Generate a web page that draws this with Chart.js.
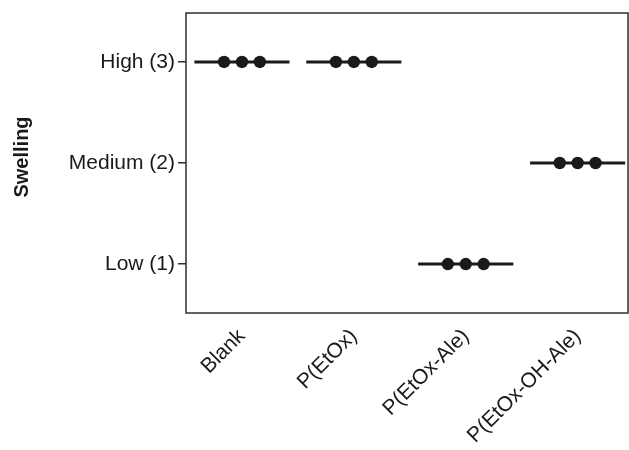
<!DOCTYPE html>
<html>
<head>
<meta charset="utf-8">
<script src="https://cdn.jsdelivr.net/npm/chart.js@4/dist/chart.umd.min.js"></script>
<style>
  body { margin: 0; background: #fff; }
  #wrap { width: 629px; height: 450px; }
</style>
</head>
<body>
<div id="wrap"><canvas id="graph" width="629" height="450"></canvas></div>
<script>
const categories = ['Blank', 'P(EtOx)', 'P(EtOx-Ale)', 'P(EtOx-OH-Ale)'];
// three replicates per group, scored 1-3
const swelling = [
    [3, 3, 3],
    [3, 3, 3],
    [1, 1, 1],
    [2, 2, 2]
];
const levelLabels = { 1: 'Low (1)', 2: 'Medium (2)', 3: 'High (3)' };
const yTitle = 'Swelling';

const ink = '#1a1a1a';
const dotSpread = 0.16;   // horizontal spacing of the stacked dots
const lineHalf = 0.425;   // half width of the median bar

function median(vals)
{
    let s = [...vals].sort((a, b) => a - b);
    let m = Math.floor(s.length / 2);
    return s.length % 2 ? s[m] : (s[m - 1] + s[m]) / 2;
}

let dots = [];
swelling.forEach((vals, i) => {
    vals.forEach((v, j) => {
        dots.push({ x: i + 1 + (j - (vals.length - 1) / 2) * dotSpread, y: v });
    });
});

let datasets = [{
    label: 'replicates',
    data: dots,
    pointRadius: 6.2,
    pointBackgroundColor: ink,
    pointBorderColor: ink,
    pointBorderWidth: 0,
    order: 0
}];

swelling.forEach((vals, i) => {
    let m = median(vals);
    datasets.push({
        type: 'line',
        label: categories[i],
        data: [{ x: i + 1 - lineHalf, y: m }, { x: i + 1 + lineHalf, y: m }],
        borderColor: ink,
        borderWidth: 3,
        pointRadius: 0,
        showLine: true,
        order: 1
    });
});

// full frame round the plot area, plus the y title
const frame = {
    id: 'frame',
    afterDraw(chart)
    {
        const { ctx, chartArea } = chart;
        ctx.save();
        ctx.strokeStyle = '#2e2e2e';
        ctx.lineWidth = 1.5;
        ctx.strokeRect(chartArea.left, chartArea.top, chartArea.right - chartArea.left, chartArea.bottom - chartArea.top);

        ctx.translate(22, (chartArea.top + chartArea.bottom) / 2 - 6);
        ctx.rotate(-Math.PI / 2);
        ctx.fillStyle = ink;
        ctx.font = "bold 20px 'Liberation Sans', Arial, sans-serif";
        ctx.textAlign = 'center';
        ctx.textBaseline = 'middle';
        ctx.fillText(yTitle, 0, 0);
        ctx.restore();
    }
};

const tickFont = { family: "'Liberation Sans', Arial, sans-serif", size: 21 };

new Chart(document.getElementById('graph'), {
    type: 'scatter',
    data: { datasets: datasets },
    plugins: [frame],
    options: {
        responsive: false,
        animation: false,
        layout: { autoPadding: false, padding: { top: 13, right: 1, left: 0, bottom: 0 } },
        plugins: {
            legend: { display: false },
            tooltip: { enabled: false }
        },
        scales: {
            x: {
                type: 'linear',
                min: 0.5,
                max: 4.45,
                afterBuildTicks: (scale) => { scale.ticks = categories.map((c, i) => ({ value: i + 1 })); },
                afterFit: (scale) => {
                    scale.height = 137;
                    scale.paddingLeft = 0;
                    scale.paddingRight = 0;
                },
                grid: { display: false, drawTicks: false },
                border: { display: false },
                ticks: {
                    font: tickFont,
                    color: ink,
                    minRotation: 45,
                    maxRotation: 45,
                    padding: 11,
                    callback: (v) => categories[v - 1]
                }
            },
            y: {
                type: 'linear',
                min: 0.515,
                max: 3.485,
                afterBuildTicks: (scale) => { scale.ticks = [1, 2, 3].map(v => ({ value: v })); },
                afterFit: (scale) => {
                    scale.width = 186;
                    scale.paddingTop = 0;
                    scale.paddingBottom = 0;
                },
                grid: { drawOnChartArea: false, drawTicks: true, tickLength: 8, color: '#2e2e2e', lineWidth: 1.5 },
                border: { display: false },
                ticks: {
                    font: tickFont,
                    color: ink,
                    padding: 3,
                    callback: (v) => levelLabels[v]
                }
            }
        }
    }
});
</script>
</body>
</html>
